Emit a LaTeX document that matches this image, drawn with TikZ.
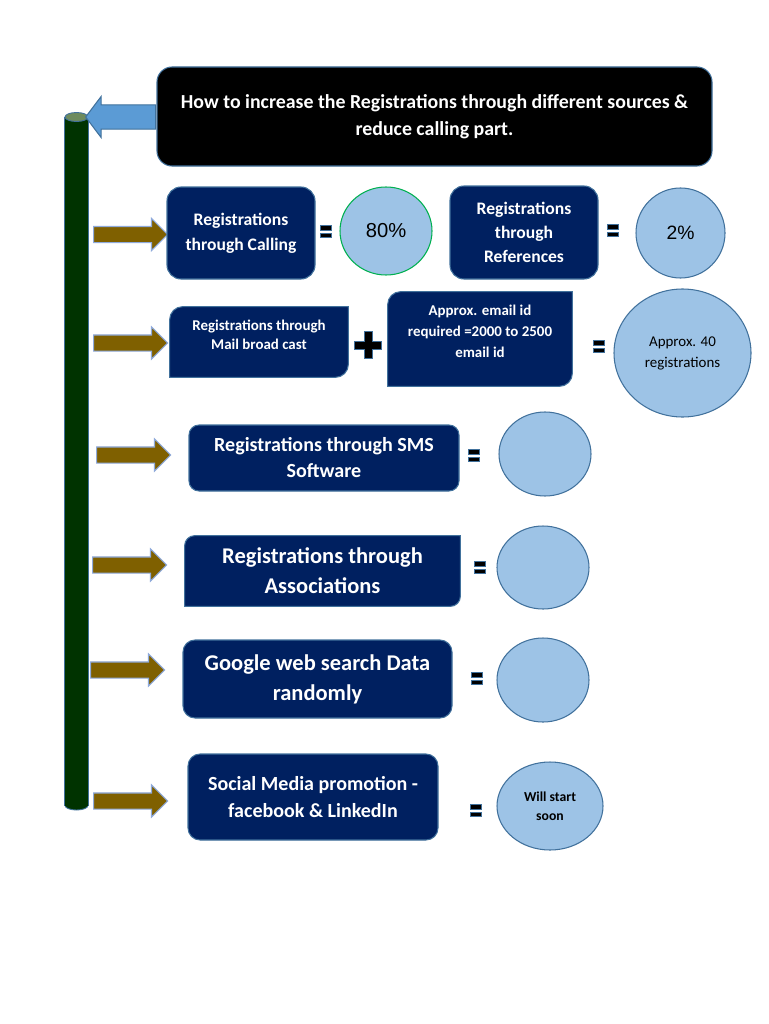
\documentclass[tikz,border=0pt]{standalone}
\usepackage{fontspec}
\setmainfont{Carlito}
\newfontfamily\arialfont{Liberation Sans}
\usepackage{xcolor}
\definecolor{navy}{HTML}{002060}
\definecolor{edgeblue}{HTML}{41719C}
\definecolor{bubble}{HTML}{9DC3E6}
\definecolor{arrowbrown}{HTML}{7F6000}
\definecolor{arrowedge}{HTML}{8FAADC}
\definecolor{bargreen}{HTML}{003300}
\definecolor{bartopfill}{HTML}{6E8B5E}
\definecolor{callgreen}{HTML}{00B050}
\definecolor{pointblue}{HTML}{5B9BD5}
\usepackage{tikz}
\usetikzlibrary{arrows.meta,positioning,calc,shapes.geometric,shapes.arrows,backgrounds}
\newcommand{\pxu}{0.02cm}
% box with two rounded and two square corners, drawn behind its node
\newcommand{\snipbox}[2]{%
  \pgfmathsetmacro{\snipc}{0.448*#2}%
  \fill[navy, draw=edgeblue, line width=0.6pt]
    ($(#1.north west)+(0,#2)$) .. controls ($(#1.north west)+(0,\snipc)$) and ($(#1.north west)+(\snipc,0)$) .. ($(#1.north west)+(#2,0)$)
    -- (#1.north east)
    -- ($(#1.south east)+(0,-#2)$) .. controls ($(#1.south east)+(0,-\snipc)$) and ($(#1.south east)+(-\snipc,0)$) .. ($(#1.south east)+(-#2,0)$)
    -- (#1.south west) -- cycle;}
\tikzset{
    reg_title/.style={draw=edgeblue, fill=black, text=white, font=\bfseries\fontsize{11.3pt}{15.4pt}\selectfont, rounded corners=15*\pxu, align=center, line width=0.6pt, minimum width=555*\pxu, minimum height=99*\pxu},
    reg_box/.style={draw=edgeblue, fill=navy, text=white, align=center, line width=0.6pt, inner sep=2pt},
    reg_snip/.style={text=white, align=center, inner sep=2pt},
    reg_bubble/.style={ellipse, draw=edgeblue, fill=bubble, line width=0.6pt, inner sep=0pt, align=center},
    reg_arrow/.style={single arrow, fill=arrowbrown, draw=arrowedge, line width=0.6pt, anchor=tail, inner sep=0pt, minimum width=0pt, text height=15*\pxu, text depth=0pt, single arrow head extend=8*\pxu, minimum height=74*\pxu},
    reg_pointer/.style={single arrow, shape border rotate=180, fill=pointblue, draw=edgeblue, line width=0.6pt, anchor=tip, inner sep=0pt, minimum width=0pt, text height=23*\pxu, text depth=0pt, single arrow head extend=8.5*\pxu, single arrow tip angle=106, minimum height=70*\pxu},
    reg_barend/.style={ellipse, draw=edgeblue, line width=0.5pt, inner sep=0pt, minimum width=23*\pxu, minimum height=9*\pxu},
    eq_sign/.pic={\filldraw[fill=black, draw=edgeblue, line width=0.5pt] (-5.5,-6) rectangle (5.5,-1) (-5.5,2) rectangle (5.5,6.5);},
    plus_sign/.pic={\filldraw[fill=black, draw=edgeblue, line width=0.5pt] (-4,-13.5) -- (4,-13.5) -- (4,-4) -- (13.5,-4) -- (13.5,4) -- (4,4) -- (4,13.5) -- (-4,13.5) -- (-4,4) -- (-13.5,4) -- (-13.5,-4) -- (-4,-4) -- cycle;}
}

\begin{document}
\begin{tikzpicture}[x=\pxu, y=-\pxu]
\begin{scope}[on background layer]
\fill[white] (0,0) rectangle (768,1024);
\end{scope}
\useasboundingbox (0,0) rectangle (768,1024);

% spine: bottom end, body, top end
\node[reg_barend, fill=bargreen] (barbase) at (76.5,805.5) {};
\node[fill=bargreen, inner sep=0pt, minimum width=23*\pxu, minimum height=688.5*\pxu] (barbody) at (76.5,461.25) {};
\draw[edgeblue, line width=0.5pt] (barbody.north west) -- (barbody.south west) (barbody.north east) -- (barbody.south east);
\node[reg_barend, fill=bartopfill] (bartop) at (76.5,117) {};

% heading
\node[reg_title] (title) at (434.5,116.5) {How to increase the Registrations through different sources \&\\reduce calling part.};
\node[reg_pointer] (pointer) at (85,117) {};

% row 1
\node[reg_arrow] (arrA) at (93,234.5) {};
\node[reg_box, rounded corners=14*\pxu, minimum width=148*\pxu, minimum height=92*\pxu, font=\bfseries\fontsize{10pt}{14.2pt}\selectfont] (calling) at (241,233) {Registrations\\through Calling};
\pic (eqA) at (326,231) {eq_sign};
\node[reg_bubble, draw=callgreen, minimum width=92*\pxu, minimum height=88*\pxu, font=\arialfont\fontsize{11.5pt}{14pt}\selectfont] (callval) at (386,231) {80\%};
\node[reg_box, rounded corners=14*\pxu, minimum width=148*\pxu, minimum height=93*\pxu, font=\bfseries\fontsize{10pt}{13.6pt}\selectfont] (refs) at (524,232.5) {Registrations\\through\\References};
\pic (eqB) at (613,230) {eq_sign};
\node[reg_bubble, minimum width=89*\pxu, minimum height=90*\pxu, font=\arialfont\fontsize{11pt}{14pt}\selectfont] (refval) at (680.5,233) {2\%};

% row 2
\node[reg_arrow] (arrB) at (93,343) {};
\node[reg_snip, minimum width=178*\pxu, minimum height=70*\pxu, text depth=14*\pxu, font=\bfseries\fontsize{8.5pt}{11pt}\selectfont] (mail) at (259,342) {Registrations through\\Mail broad cast};
\pic (plusA) at (368,345) {plus_sign};
\node[reg_snip, minimum width=184*\pxu, minimum height=94*\pxu, text depth=15*\pxu, font=\bfseries\fontsize{8.5pt}{12pt}\selectfont] (emails) at (480,339) {Approx. email id\\required =2000 to 2500\\email id};
\pic (eqC) at (599,346) {eq_sign};
\node[reg_bubble, minimum width=137*\pxu, minimum height=128*\pxu, font=\fontsize{8.5pt}{12pt}\selectfont] (mailval) at (682.5,353) {Approx. 40\\registrations};

% row 3
\node[reg_arrow] (arrC) at (96,455) {};
\node[reg_box, rounded corners=10*\pxu, minimum width=270*\pxu, minimum height=66*\pxu, font=\bfseries\fontsize{11.4pt}{14.8pt}\selectfont] (sms) at (324,458) {Registrations through SMS\\Software};
\pic (eqD) at (474,455) {eq_sign};
\node[reg_bubble, minimum width=92*\pxu, minimum height=84*\pxu] (smsval) at (545,454) {};

% row 4
\node[reg_arrow] (arrD) at (92,565) {};
\node[reg_snip, minimum width=275*\pxu, minimum height=70*\pxu, font=\bfseries\fontsize{12.8pt}{17pt}\selectfont] (assoc) at (322.5,571) {Registrations through\\Associations};
\pic (eqE) at (480,567) {eq_sign};
\node[reg_bubble, minimum width=92*\pxu, minimum height=83*\pxu] (assocval) at (543,567.5) {};

% row 5
\node[reg_arrow] (arrE) at (90,670) {};
\node[reg_box, rounded corners=12*\pxu, minimum width=269*\pxu, minimum height=78*\pxu, font=\bfseries\fontsize{12.8pt}{17pt}\selectfont] (google) at (317.5,679) {Google web search Data\\randomly};
\pic (eqF) at (477,678) {eq_sign};
\node[reg_bubble, minimum width=92*\pxu, minimum height=84*\pxu] (googleval) at (543,680) {};

% row 6
\node[reg_arrow] (arrF) at (93,801) {};
\node[reg_box, rounded corners=12*\pxu, minimum width=250*\pxu, minimum height=86*\pxu, font=\bfseries\fontsize{11.4pt}{15.4pt}\selectfont] (social) at (313,797) {Social Media promotion -\\facebook \& LinkedIn};
\pic (eqG) at (476,810) {eq_sign};
\node[reg_bubble, minimum width=106*\pxu, minimum height=88*\pxu, font=\bfseries\fontsize{7.8pt}{11pt}\selectfont] (socialval) at (550,806) {Will start\\soon};

\begin{scope}[on background layer]
\snipbox{mail}{13}
\snipbox{emails}{13}
\snipbox{assoc}{10}
\end{scope}
\end{tikzpicture}
\end{document}
